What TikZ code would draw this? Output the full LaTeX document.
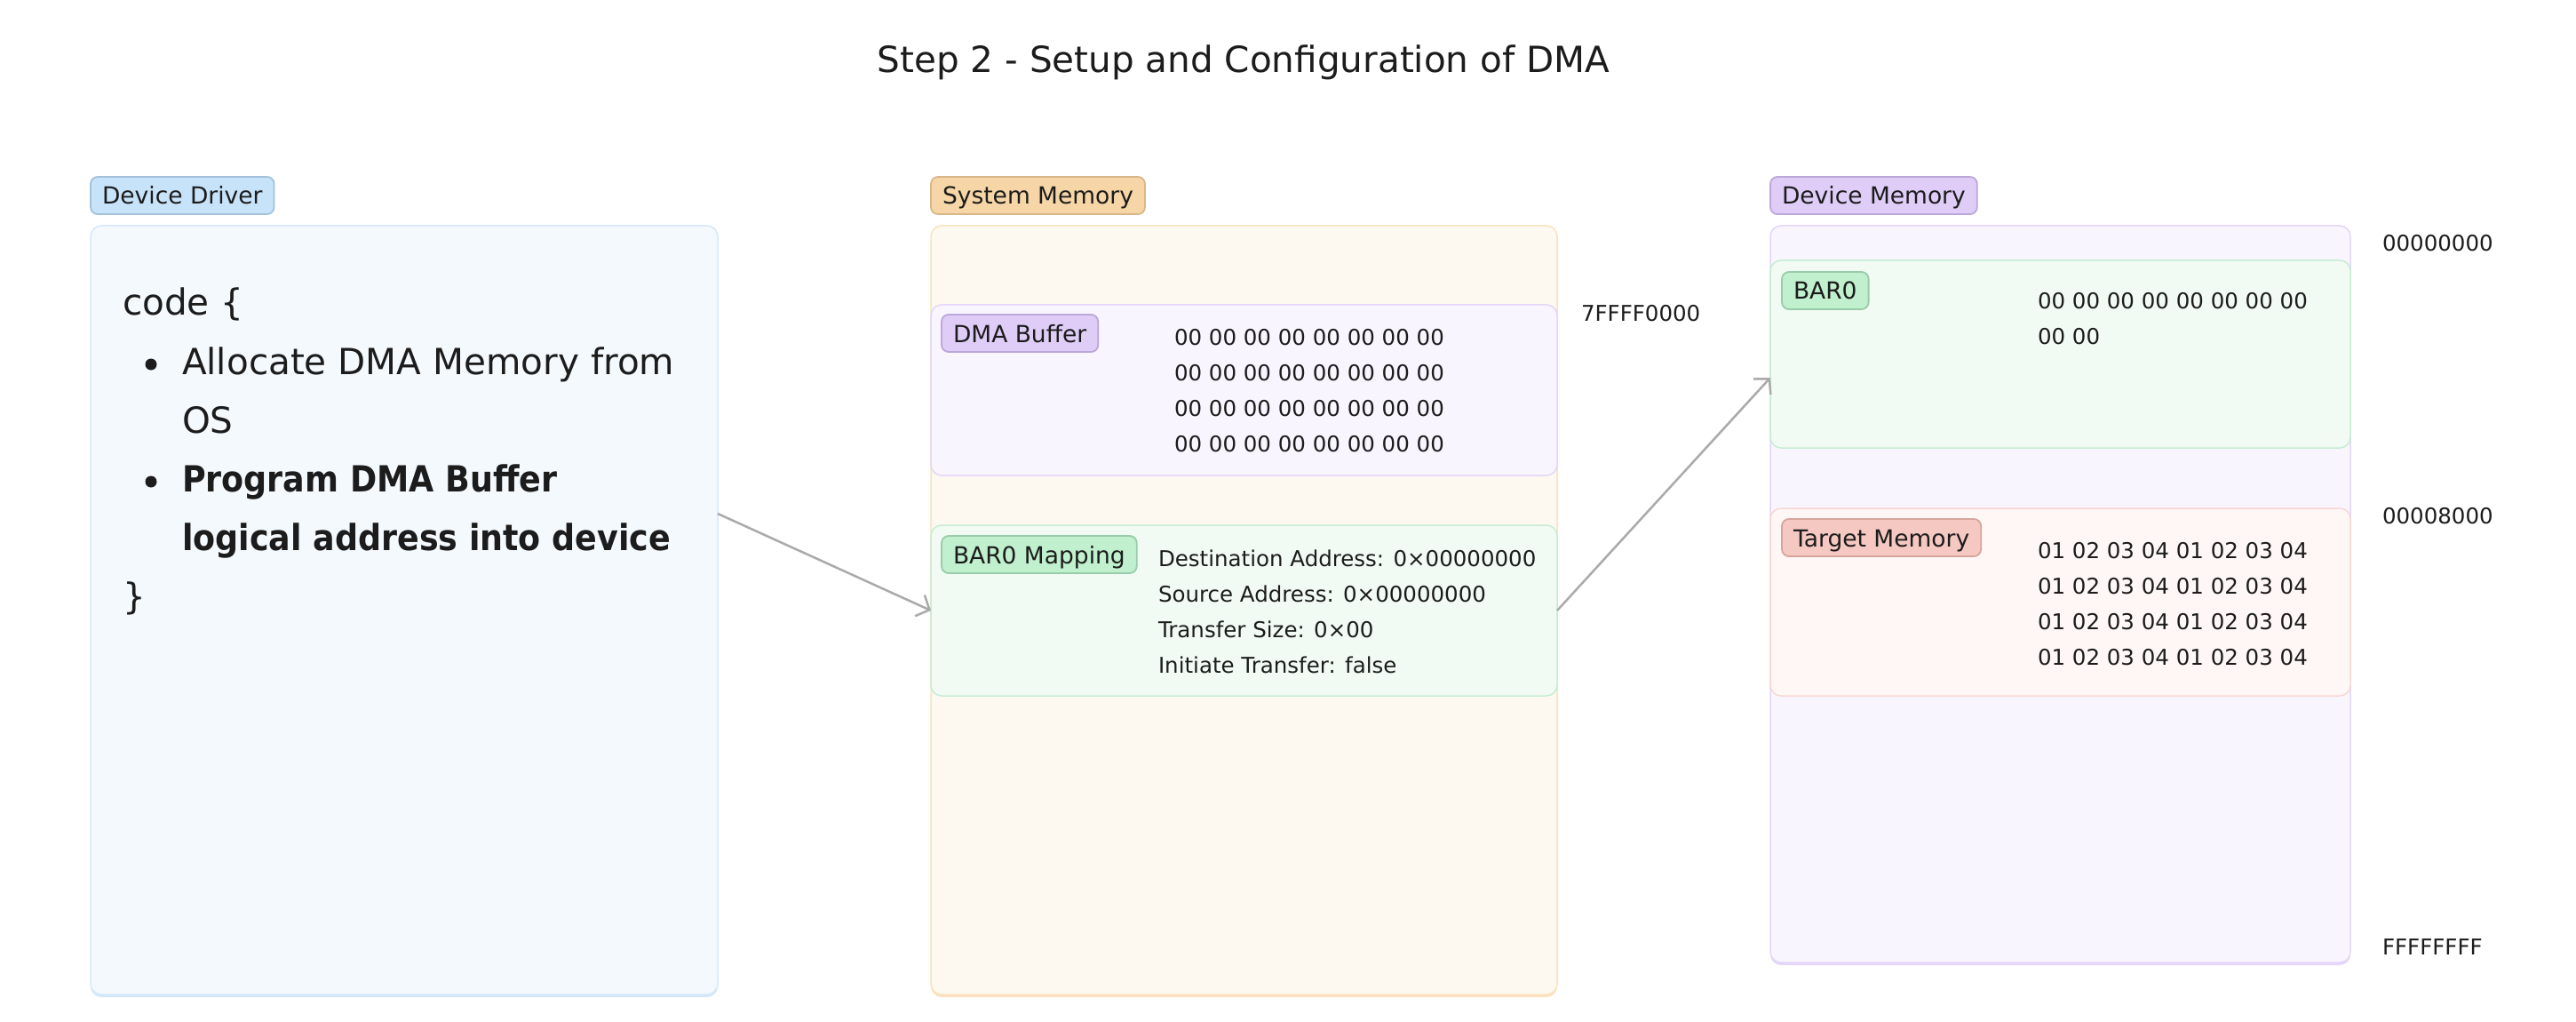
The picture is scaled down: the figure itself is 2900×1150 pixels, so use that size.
\documentclass[tikz,border=0pt]{standalone}
\usepackage{fontspec}
\setmainfont{DejaVu Sans}
\newfontfamily\narrowbold{DejaVu Sans}[FakeStretch=0.9]
\usetikzlibrary{arrows.meta}

% palette
\definecolor{ink}{HTML}{1C1C1C}
\definecolor{wire}{HTML}{AAAAAA}
\definecolor{blueFill}{HTML}{F4F9FE}
\definecolor{blueLine}{HTML}{D5E8FA}
\definecolor{blueTag}{HTML}{C7E3FA}
\definecolor{blueTagLine}{HTML}{A3C1DA}
\definecolor{sandFill}{HTML}{FDF8F0}
\definecolor{sandLine}{HTML}{FAE2BF}
\definecolor{sandTag}{HTML}{F6D6A6}
\definecolor{sandTagLine}{HTML}{D8B689}
\definecolor{lilacFill}{HTML}{F8F5FE}
\definecolor{lilacLine}{HTML}{E3D6F8}
\definecolor{lilacTag}{HTML}{DFCDF8}
\definecolor{lilacTagLine}{HTML}{BBA7D9}
\definecolor{mintFill}{HTML}{F1FBF4}
\definecolor{mintLine}{HTML}{C6EDD2}
\definecolor{mintTag}{HTML}{C0F0CE}
\definecolor{mintTagLine}{HTML}{9ACCA9}
\definecolor{roseFill}{HTML}{FEF7F5}
\definecolor{roseLine}{HTML}{F8D8D3}
\definecolor{roseTag}{HTML}{F5C8C1}
\definecolor{roseTagLine}{HTML}{D6A69E}

\newcommand\lblfont{\fontsize{26.5}{30}\selectfont}
\newcommand\smallfont{\fontsize{24.5}{40}\selectfont}
\newcommand\bigfont{\fontsize{40.5}{66}\selectfont}

\begin{document}
\begin{tikzpicture}[x=1pt,y=-1pt,
  every node/.style={text=ink, outer sep=0pt},
  region/.style 2 args={draw=#1, fill=#2, line width=1.5pt, rounded corners=12pt,
    anchor=north west, inner sep=0pt},
  tag/.style 2 args={draw=#1, fill=#2, line width=1.8pt, rounded corners=8pt,
    anchor=north west, font=\lblfont, inner xsep=13pt, inner ysep=9pt,
    text height=22pt, text depth=2pt},
  % multi-line text blocks are placed by the baseline of their last line
  mono/.style={anchor=base west, align=left, font=\smallfont, inner sep=0pt},
  codeline/.style={anchor=base west, align=left, font=\bigfont, inner sep=0pt},
  dot/.style={circle, fill=ink, inner sep=0pt, minimum size=13pt},
  link/.style={draw=wire, line width=2.5pt,
    -{Straight Barb[length=12pt,width=26pt,line width=2.5pt]}}
]
\useasboundingbox (0,0) rectangle (2900,1150);
\fill[white] (0,0) rectangle (2900,1150);

% title
\node[anchor=base, font=\fontsize{40.5}{48}\selectfont, inner sep=0pt] (title) at (1400,82)
  {Step 2 - Setup and Configuration of DMA};

% ---------- device driver ----------
\fill[blueLine, rounded corners=12pt] (102,258) rectangle (808,1122);
\node[region={blueLine}{blueFill}, minimum width=706pt, minimum height=865pt] (drv) at (102,254) {};
\node[tag={blueTagLine}{blueTag}] (drvtag) at (102,199) {Device Driver};

\node[codeline] (codeopen) at (138,355) {code \{};
\node[dot] (dot1) at (170,410) {};
\node[codeline] (item1) at (205,487) {Allocate DMA Memory from\\OS};
\node[dot] (dot2) at (170,542) {};
\node[codeline, font=\bigfont\narrowbold\bfseries] (item2) at (205,619)
  {Program DMA Buffer\\logical address into device};
\node[codeline] (codeclose) at (138,685) {\}};

% ---------- system memory ----------
\fill[sandLine, rounded corners=12pt] (1048,258) rectangle (1753,1122);
\node[region={sandLine}{sandFill}, minimum width=705pt, minimum height=865pt] (sys) at (1048,254) {};
\node[tag={sandTagLine}{sandTag}] (systag) at (1048,199) {System Memory};

\node[region={lilacLine}{lilacFill}, minimum width=705pt, minimum height=192pt] (buf) at (1048,343) {};
\node[tag={lilacTagLine}{lilacTag}] (buftag) at (1060,354) {DMA Buffer};
\node[mono] (bufdata) at (1322,508)
  {00 00 00 00 00 00 00 00\\00 00 00 00 00 00 00 00\\00 00 00 00 00 00 00 00\\00 00 00 00 00 00 00 00};
\node[mono] (bufaddr) at (1780,362) {7FFFF0000};

\node[region={mintLine}{mintFill}, minimum width=705pt, minimum height=192pt] (map) at (1048,591) {};
\node[tag={mintTagLine}{mintTag}] (maptag) at (1060,603) {BAR0 Mapping};
\node[mono] (mapregs) at (1304,757)
  {Destination Address: 0×00000000\\Source Address: 0×00000000\\Transfer Size: 0×00\\Initiate Transfer: false};

% ---------- device memory ----------
\fill[lilacLine, rounded corners=12pt] (1993,258) rectangle (2646,1086);
\node[region={lilacLine}{lilacFill}, minimum width=653pt, minimum height=829pt] (dev) at (1993,254) {};
\node[tag={lilacTagLine}{lilacTag}] (devtag) at (1993,199) {Device Memory};

\node[region={mintLine}{mintFill}, minimum width=653pt, minimum height=211pt] (bar) at (1993,293) {};
\node[tag={mintTagLine}{mintTag}] (bartag) at (2006,306) {BAR0};
\node[mono] (bardata) at (2294,388) {00 00 00 00 00 00 00 00\\00 00};

\node[region={roseLine}{roseFill}, minimum width=653pt, minimum height=211pt] (tgt) at (1993,572) {};
\node[tag={roseTagLine}{roseTag}] (tgttag) at (2006,584) {Target Memory};
\node[mono] (tgtdata) at (2294,748)
  {01 02 03 04 01 02 03 04\\01 02 03 04 01 02 03 04\\01 02 03 04 01 02 03 04\\01 02 03 04 01 02 03 04};

\node[mono] (addrlo) at (2682,283) {00000000};
\node[mono] (addrmid) at (2682,589) {00008000};
\node[mono] (addrhi) at (2682,1074) {FFFFFFFF};

% ---------- connectors ----------
\coordinate (drvout) at (808,578);
\coordinate (barin) at (1993,425);
\draw[link] (drvout) -- (map.west);
\draw[link] (map.east) -- (barin);
\end{tikzpicture}
\end{document}
